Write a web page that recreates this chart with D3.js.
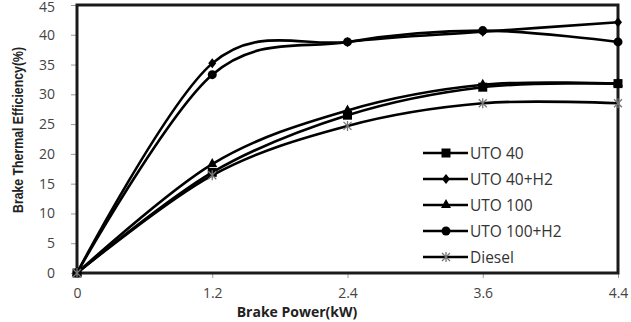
<!DOCTYPE html>
<html><head><meta charset="utf-8">
<script src="https://cdn.jsdelivr.net/npm/d3@7"></script>
<style>body{margin:0;background:#fff}svg{display:block}</style>
</head><body>
<svg id="c" width="631" height="322"></svg>
<script>
const categories = ["0", "1.2", "2.4", "3.6", "4.4"];
const yTicks = [0, 5, 10, 15, 20, 25, 30, 35, 40, 45];
const uto40 = [0, 16.9, 26.5, 31.2, 31.8];
const uto40h2 = [0, 35.2, 38.8, 40.5, 42.1];
const uto100 = [0, 18.3, 27.3, 31.6, 31.8];
const uto100h2 = [0, 33.3, 38.8, 40.7, 38.8];
const diesel = [0, 16.4, 24.7, 28.5, 28.5];
const seriesNames = ["UTO 40", "UTO 40+H2", "UTO 100", "UTO 100+H2", "Diesel"];
const seriesData = [uto40, uto40h2, uto100, uto100h2, diesel];
const markers = ["square", "diamond", "triangle", "circle", "star"];

const svg = d3.select("#c");
const L = 77, R = 618, T = 5, B = 273;
const x = d3.scalePoint().domain(categories).range([L, R]);
const y = d3.scaleLinear().domain([0, 45]).range([B, T]);

const yAxis = svg.append("g").attr("transform", `translate(${L},0)`)
  .call(d3.axisLeft(y).tickValues(yTicks).tickSize(6).tickPadding(16));
yAxis.select(".domain").remove();
yAxis.selectAll(".tick line").attr("stroke", "#999").attr("stroke-width", 1);
yAxis.selectAll(".tick text").attr("font-family", "Open Sans, sans-serif").attr("font-size", 14).attr("fill", "#444");
yAxis.selectAll(".tick text").filter(d => d === 45).attr("dy", "0.45em");

const xAxis = svg.append("g").attr("transform", `translate(0,${B})`)
  .call(d3.axisBottom(x).tickSize(5).tickPadding(10));
xAxis.select(".domain").remove();
xAxis.selectAll(".tick line").attr("stroke", "#999").attr("stroke-width", 1);
xAxis.selectAll(".tick text").attr("font-family", "Open Sans, sans-serif").attr("font-size", 14).attr("fill", "#444");

svg.append("rect").attr("x", L).attr("y", T).attr("width", R - L).attr("height", B - T)
  .attr("fill", "none").attr("stroke", "#1a1a1a").attr("stroke-width", 3);

const line = d3.line().x((d, i) => x(categories[i])).y(d => y(d)).curve(d3.curveCardinal.tension(0));

function drawMarker(g, type, cx, cy) {
  if (type === "square") g.append("rect").attr("x", cx - 4.5).attr("y", cy - 4.5).attr("width", 9).attr("height", 9).attr("fill", "#000");
  else if (type === "diamond") g.append("path").attr("d", `M${cx},${cy-5}L${cx+4},${cy}L${cx},${cy+5}L${cx-4},${cy}Z`).attr("fill", "#000");
  else if (type === "triangle") g.append("path").attr("d", `M${cx},${cy-6}L${cx+5},${cy+3}L${cx-5},${cy+3}Z`).attr("fill", "#000");
  else if (type === "circle") g.append("circle").attr("cx", cx).attr("cy", cy).attr("r", 4.5).attr("fill", "#000");
  else if (type === "star") g.append("path").attr("d", `M${cx-4},${cy-4}L${cx+4},${cy+4}M${cx-4},${cy+4}L${cx+4},${cy-4}M${cx},${cy-5}L${cx},${cy+5}`).attr("stroke", "#777").attr("stroke-width", 1.3).attr("fill", "none");
}

seriesData.forEach((data) => {
  svg.append("path").datum(data).attr("d", line).attr("fill", "none").attr("stroke", "#000").attr("stroke-width", 2.6);
});
seriesData.forEach((data, s) => {
  const g = svg.append("g");
  data.forEach((d, i) => drawMarker(g, markers[s], x(categories[i]), y(d)));
});

const lg = svg.append("g");
seriesNames.forEach((name, i) => {
  const ly = 153 + i * 26;
  lg.append("line").attr("x1", 423).attr("x2", 468).attr("y1", ly).attr("y2", ly).attr("stroke", "#000").attr("stroke-width", 2.6);
  drawMarker(lg, markers[i], 446, ly);
  lg.append("text").attr("x", 470).attr("y", ly + 5.5).attr("font-family", "Open Sans, sans-serif").attr("font-size", 15.5).attr("fill", "#333").text(name);
});

svg.append("text").attr("x", 297).attr("y", 317).attr("text-anchor", "middle")
  .attr("font-family", "Open Sans, sans-serif").attr("font-weight", "bold").attr("font-size", 14).attr("fill", "#222").text("Brake Power(kW)");
svg.append("text").attr("transform", "translate(23,130) rotate(-90)").attr("text-anchor", "middle")
  .attr("font-family", "Liberation Sans Narrow, Liberation Sans, sans-serif").attr("font-weight", "bold").attr("font-size", 15).attr("fill", "#222")
  .attr("textLength", 166).attr("lengthAdjust", "spacingAndGlyphs").text("Brake Thermal Efficiency(%)");
</script>
</body></html>
